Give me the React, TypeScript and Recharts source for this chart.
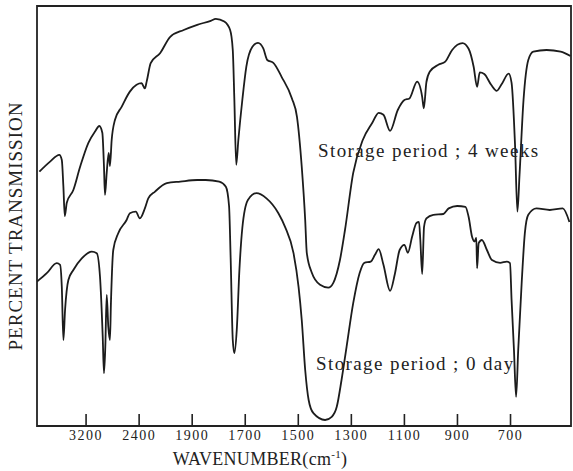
import React from 'react';
import { LineChart, Line, XAxis, YAxis, ReferenceArea } from 'recharts';

// Axis tick wavenumbers (the chart's x scale changes step between ticks)
const TICK_WN = [3200, 2400, 1900, 1700, 1500, 1300, 1100, 900, 700];
const TICK_LABELS = ['3200', '2400', '1900', '1700', '1500', '1300', '1100', '900', '700'];
const WN_LEFT = 3940;
const WN_RIGHT = 472;

// Storage period ; 4 weeks (upper trace)
const WN_4W = [3904, 3743, 3603, 3566, 3542, 3521, 3491, 3392, 3290, 3165, 3065, 3000, 2955, 2930, 2915, 2889, 2859, 2840, 2814, 2765, 2664, 2540, 2439, 2377, 2346, 2329, 2291, 2203, 2107, 1980, 1881, 1830, 1811, 1779, 1757, 1747, 1741, 1734, 1726, 1711, 1696, 1673, 1652, 1632, 1617, 1594, 1563, 1524, 1505, 1487, 1474, 1468, 1449, 1418, 1387, 1368, 1343, 1324, 1293, 1257, 1221, 1197, 1179, 1154, 1125, 1100, 1081, 1052, 1033, 1027, 1017, 1004, 972, 946, 920, 881, 858, 839, 826, 816, 799, 773, 752, 733, 707, 696, 683, 674, 666, 651, 633, 614, 564, 511, 474];
const T_4W = [63.6, 66.1, 67.8, 66.5, 59.8, 52.5, 55.8, 59, 64.8, 70.8, 73.6, 75, 73.3, 64.8, 57.8, 63.3, 68.3, 65, 71.5, 76.5, 79.8, 83.6, 85.3, 85.7, 84.4, 86.1, 90.7, 93.2, 97.3, 99, 100.3, 101.3, 101.8, 101.1, 99, 94, 81.5, 65.3, 71.5, 81.5, 89.8, 94.8, 95.8, 94.4, 91.5, 90.8, 87.3, 81.9, 77.3, 64.8, 51.5, 43.3, 38.3, 35.3, 34.6, 35.8, 41.5, 49, 63.3, 71.5, 75.8, 78.3, 77.8, 73.8, 79, 81.5, 81.9, 86.1, 82.3, 79.4, 86, 88.6, 90.3, 91.1, 94, 95.7, 94.3, 89.8, 84.8, 88.4, 88, 85.3, 83.8, 85.5, 88.1, 85.8, 70.3, 53.6, 62.8, 81.5, 91.5, 93.6, 94, 93.6, 92.5];

// Storage period ; 0 day (lower trace)
const WN_0D = [3940, 3793, 3642, 3592, 3566, 3542, 3517, 3467, 3392, 3265, 3114, 3039, 2990, 2949, 2930, 2910, 2889, 2865, 2840, 2825, 2790, 2715, 2589, 2540, 2450, 2393, 2346, 2314, 2250, 2139, 2012, 1881, 1849, 1798, 1773, 1761, 1755, 1747, 1741, 1732, 1722, 1711, 1690, 1658, 1620, 1575, 1550, 1518, 1499, 1487, 1474, 1461, 1443, 1399, 1374, 1355, 1337, 1318, 1293, 1269, 1251, 1227, 1211, 1197, 1179, 1154, 1136, 1118, 1100, 1087, 1071, 1054, 1045, 1040, 1033, 1026, 1017, 991, 953, 933, 901, 870, 858, 845, 836, 829, 826, 820, 808, 789, 770, 739, 714, 702, 696, 687, 679, 671, 658, 646, 633, 602, 552, 503, 478];
const T_0D = [36.1, 38.2, 40.7, 40.3, 34.8, 21.5, 29, 36.5, 39, 41.9, 43.6, 43.2, 37.3, 22.3, 13.2, 19.8, 32.8, 24.8, 21.5, 30.8, 44, 48.2, 51.5, 53.2, 53.6, 51.9, 54.4, 56.9, 58.6, 60.7, 61.1, 61.5, 61.5, 61.1, 59.8, 55, 42, 21.5, 18.2, 24, 39, 49.5, 56.5, 58.2, 56.9, 53.2, 49.8, 43.2, 34.8, 26.5, 14, 6.5, 3.2, 1.5, 2.3, 4.8, 11.5, 19.8, 30.7, 38.2, 40.8, 41.1, 42.8, 44.2, 40.3, 33.8, 38, 44, 45.3, 43.3, 47.3, 50.8, 51, 46.5, 38, 49.8, 51.9, 52.8, 53, 54.4, 55, 54.8, 52.3, 47.3, 46.1, 47, 39.4, 45.7, 46.5, 44, 41.5, 40.8, 41.1, 40.7, 31.5, 19, 7.3, 19, 35.7, 48.2, 52.8, 54.4, 54, 54.4, 51];

const Y_MIN = 0;
const Y_MAX = 105;

// piecewise-linear wavenumber -> chart position (ticks equally spaced)
function wnToPos(wn: number): number {
  if (wn >= TICK_WN[0]) return 1 - (wn - TICK_WN[0]) / 800;
  for (let i = 0; i < TICK_WN.length - 1; i++) {
    const a = TICK_WN[i];
    const b = TICK_WN[i + 1];
    if (wn <= a && wn >= b) return i + 1 + (a - wn) / (a - b);
  }
  return TICK_WN.length + (TICK_WN[TICK_WN.length - 1] - wn) / 200;
}

const toSeries = (wn: number[], t: number[]) => wn.map((w, i) => ({ p: wnToPos(w), t: t[i] }));
const data4w = toSeries(WN_4W, T_4W);
const data0d = toSeries(WN_0D, T_0D);
const P_MIN = wnToPos(WN_LEFT);
const P_MAX = wnToPos(WN_RIGHT);
const TICK_POS = TICK_WN.map(wnToPos);

const FONT = "'Liberation Serif', 'DejaVu Serif', serif";
const INK = '#222';

const XTick = (props: any) => {
  const { x, y, payload } = props;
  const idx = TICK_POS.findIndex((p) => Math.abs(p - payload.value) < 1e-6);
  return (
    <g>
      <line x1={x} x2={x} y1={y} y2={y - 12} stroke={INK} strokeWidth={1.6} />
      <text x={x} y={y + 14} textAnchor="middle" fontFamily={FONT} fontSize={14} letterSpacing={1.5} fill={INK}>
        {TICK_LABELS[idx]}
      </text>
    </g>
  );
};

export default function App() {
  return (
    <div style={{ position: 'absolute', left: 0, top: 0, width: 573, height: 471, background: '#fff' }}>
      <LineChart width={573} height={471} margin={{ top: 6, right: 2, bottom: 0, left: 37 }}>
        <XAxis
          type="number"
          dataKey="p"
          domain={[P_MIN, P_MAX]}
          ticks={TICK_POS}
          allowDataOverflow
          axisLine={false}
          tickLine={false}
          tickSize={0}
          tickMargin={0}
          height={45}
          interval={0}
          tick={<XTick />}
        />
        <YAxis type="number" domain={[Y_MIN, Y_MAX]} hide width={0} allowDataOverflow />
        <ReferenceArea x1={P_MIN} x2={P_MAX} y1={Y_MIN} y2={Y_MAX} fill="none" fillOpacity={0} stroke={INK} strokeWidth={1.8} ifOverflow="extendDomain" />
        <Line data={data4w} dataKey="t" type="monotone" stroke="#1c1c1c" strokeWidth={1.8} dot={false} isAnimationActive={false} />
        <Line data={data0d} dataKey="t" type="monotone" stroke="#1c1c1c" strokeWidth={1.8} dot={false} isAnimationActive={false} />
      </LineChart>
      <svg width={573} height={471} style={{ position: 'absolute', left: 0, top: 0, pointerEvents: 'none' }}>
        <text x={22} y={226} transform="rotate(-90 22 226)" textAnchor="middle" fontFamily={FONT} fontSize={19} letterSpacing={1} fill={INK}>
          PERCENT TRANSMISSION
        </text>
        <text x={260} y={465} textAnchor="middle" fontFamily={FONT} fontSize={18} letterSpacing={0.3} fill={INK}>
          WAVENUMBER(cm<tspan fontSize={11} dy={-7}>-1</tspan><tspan dy={7}>)</tspan>
        </text>
        <text x={318} y={157} fontFamily={FONT} fontSize={19} letterSpacing={1.4} fill={INK}>
          Storage period ; 4 weeks
        </text>
        <text x={316} y={370} fontFamily={FONT} fontSize={19} letterSpacing={1.4} fill={INK}>
          Storage period ; 0 day
        </text>
      </svg>
    </div>
  );
}
